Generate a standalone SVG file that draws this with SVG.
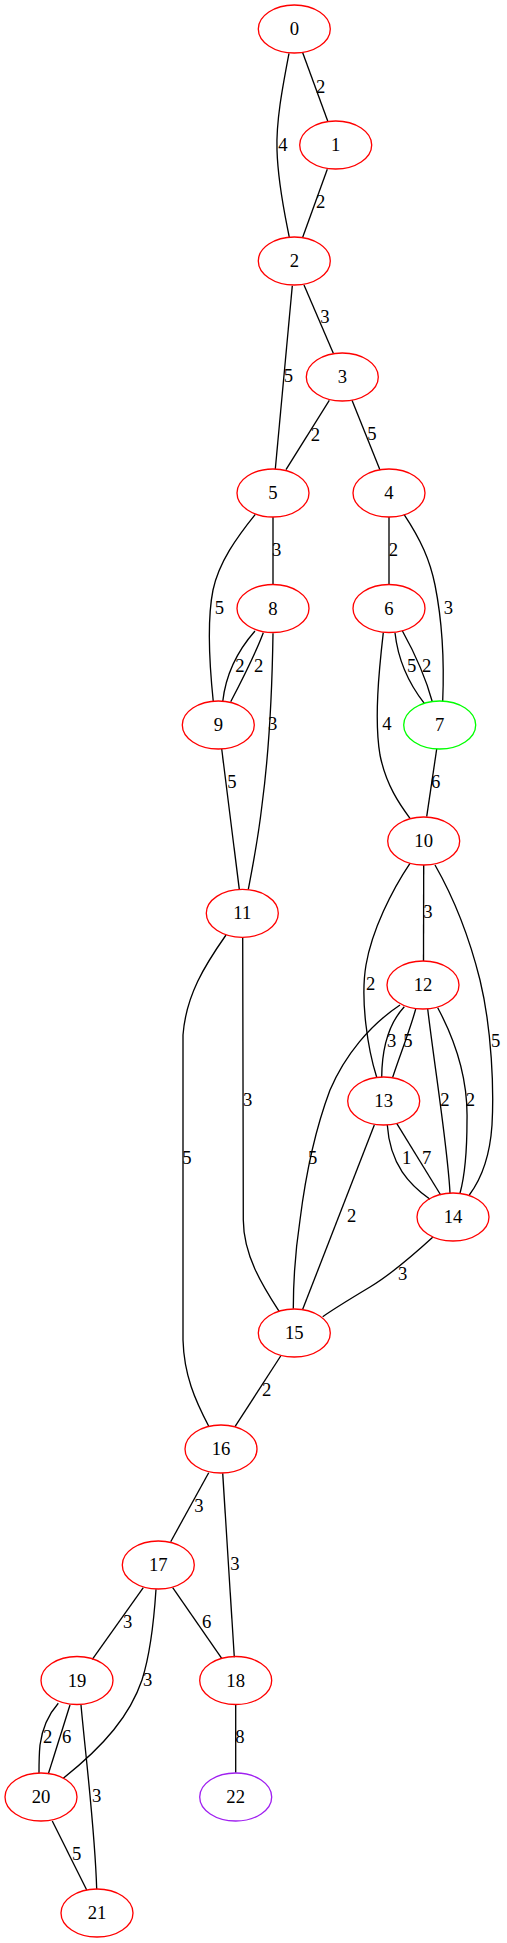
<svg xmlns="http://www.w3.org/2000/svg" width="507" height="1943" viewBox="0 0 507 1943">
<style>
.n ellipse{fill:none;stroke:#ff0000;stroke-width:1.33}
.n text,.l text{font-family:"Liberation Serif","Times New Roman",serif;font-size:18.67px;fill:#000;text-anchor:middle}
.e path{fill:none;stroke:#000;stroke-width:1.33}
</style>
<rect width="507" height="1943" fill="#fff"/>
<g id="edges" class="e">
<path d="M302.7,52.7 L327.7,121"/>
<path d="M289,53.3 C283,85 276,120 277,150 C278,185 285,215 289.3,237.3"/>
<path d="M327.3,169.3 L302.7,237.3"/>
<path d="M304,285 L333.3,353.3"/>
<path d="M292.3,285.7 L275.3,469"/>
<path d="M329.3,400.3 L286,469.7"/>
<path d="M352,400.3 L380,470"/>
<path d="M273,517 L273,584.7"/>
<path d="M389,517 L389,584.3"/>
<path d="M255.3,514.3 C237,537 219,562 213,590 C207,620 210,670 213.3,701.7"/>
<path d="M404,514.3 C421,540 430,560 435,585 C443,625 444,670 442.7,701.3"/>
<path d="M255,631 C240,648 226,672 222.7,701.7"/>
<path d="M263.3,632.7 C255,655 242,680 230.7,701.7"/>
<path d="M273,633.3 C272,700 268,760 262,805 C258,840 252,870 248.3,889.3"/>
<path d="M395,632.7 C398,660 410,685 424.3,703.3"/>
<path d="M402.3,630.7 C413,650 425,675 432.3,701.7"/>
<path d="M383.3,632.7 C379,670 374,720 380,755 C386,785 400,805 410,818.3"/>
<path d="M436.7,749 L426.7,816.7"/>
<path d="M221.7,749 L239.3,889.3"/>
<path d="M423.7,865 L423.5,961"/>
<path d="M410,863.3 C392,890 372,930 366,965 C360,1000 368,1050 376.7,1077.3"/>
<path d="M435,865 C455,900 470,940 480,980 C492,1030 494,1090 492,1125 C490,1155 482,1178 469.3,1195"/>
<path d="M404.3,1006.7 C392,1020 382,1040 381.7,1077.3"/>
<path d="M415.7,1009 C410,1030 400,1055 392.7,1077.3"/>
<path d="M427.7,1009 C435,1070 448,1150 450,1193.3"/>
<path d="M437.7,1007.7 C455,1040 468,1080 467,1120 C467,1150 465,1175 460,1193.3"/>
<path d="M400,1005 C370,1025 345,1055 330,1090 C315,1130 305,1180 300,1220 C294,1260 293.3,1290 293.3,1308.7"/>
<path d="M242.7,937 C243,1030 243,1150 243.3,1220 C243.5,1255 262,1285 279.3,1311.7"/>
<path d="M226,935 C205,965 186,995 183,1035 L183,1340 C184,1375 195,1400 209,1426.7"/>
<path d="M387.3,1125 C390,1165 410,1185 430,1199.3"/>
<path d="M396.7,1123.3 L440.7,1195"/>
<path d="M374.3,1125 L302.7,1309.3"/>
<path d="M432.7,1237.3 C410,1258 390,1275 370,1287 C350,1299 335,1308 322.7,1316.7"/>
<path d="M280.7,1356 L235,1426.7"/>
<path d="M208.7,1472.7 L170.7,1541.7"/>
<path d="M222.7,1473.3 L234.3,1657.3"/>
<path d="M143.3,1587.7 L92.3,1659.3"/>
<path d="M172.7,1587.7 L221.7,1658.3"/>
<path d="M156,1589.3 C154,1620 150,1655 142,1680 C130,1715 105,1745 63.3,1778.3"/>
<path d="M235.7,1704.3 L235.7,1772.7"/>
<path d="M58.3,1703.3 C48,1715 42,1730 40,1745 C39,1755 39,1765 39,1773.3"/>
<path d="M70,1705 L48.3,1774"/>
<path d="M81,1705 C86,1760 95,1830 96.7,1889.3"/>
<path d="M52.3,1821 L86.7,1890"/>
</g>
<g id="edge-labels" class="l">
<text x="320.7" y="93">2</text>
<text x="283" y="151">4</text>
<text x="320.7" y="208">2</text>
<text x="325" y="323">3</text>
<text x="288.3" y="382">5</text>
<text x="315.3" y="441">2</text>
<text x="372" y="440">5</text>
<text x="276.7" y="556">3</text>
<text x="219.3" y="614">5</text>
<text x="393.3" y="556">2</text>
<text x="448.3" y="614">3</text>
<text x="240" y="672">2</text>
<text x="258.7" y="672">2</text>
<text x="272.7" y="730">3</text>
<text x="411.7" y="672">5</text>
<text x="426.7" y="672">2</text>
<text x="387" y="730">4</text>
<text x="435.7" y="788">6</text>
<text x="232" y="788">5</text>
<text x="428" y="918">3</text>
<text x="370.7" y="990">2</text>
<text x="495.7" y="1047">5</text>
<text x="391.7" y="1047">3</text>
<text x="408" y="1047">5</text>
<text x="445" y="1106">2</text>
<text x="470.3" y="1106">2</text>
<text x="312.7" y="1164">5</text>
<text x="247.7" y="1106">3</text>
<text x="187" y="1164">5</text>
<text x="406.7" y="1164">1</text>
<text x="426.7" y="1164">7</text>
<text x="351.7" y="1222">2</text>
<text x="402.7" y="1280">3</text>
<text x="266.7" y="1396">2</text>
<text x="199" y="1512">3</text>
<text x="235" y="1570">3</text>
<text x="127.7" y="1628">3</text>
<text x="147.7" y="1686">3</text>
<text x="206.7" y="1628">6</text>
<text x="240" y="1743">8</text>
<text x="47.7" y="1743">2</text>
<text x="66.7" y="1743">6</text>
<text x="96.7" y="1802">3</text>
<text x="76.7" y="1860">5</text>
</g>
<g id="node0" class="n"><ellipse cx="294.3" cy="29" rx="36" ry="24"/><text x="294.3" y="35">0</text></g>
<g id="node1" class="n"><ellipse cx="335.7" cy="145" rx="36" ry="24"/><text x="335.7" y="151">1</text></g>
<g id="node2" class="n"><ellipse cx="294.3" cy="261" rx="36" ry="24"/><text x="294.3" y="267">2</text></g>
<g id="node3" class="n"><ellipse cx="342.3" cy="377" rx="36" ry="24"/><text x="342.3" y="383">3</text></g>
<g id="node4" class="n"><ellipse cx="389" cy="493" rx="36" ry="24"/><text x="389" y="499">4</text></g>
<g id="node5" class="n"><ellipse cx="273" cy="493" rx="36" ry="24"/><text x="273" y="499">5</text></g>
<g id="node6" class="n"><ellipse cx="389" cy="608.5" rx="36" ry="24"/><text x="389" y="614.5">6</text></g>
<g id="node7" class="n"><ellipse cx="439.7" cy="725" rx="36" ry="24" style="stroke:#00ff00"/><text x="439.7" y="731">7</text></g>
<g id="node8" class="n"><ellipse cx="273" cy="608.5" rx="36" ry="24"/><text x="273" y="614.5">8</text></g>
<g id="node9" class="n"><ellipse cx="218.3" cy="725" rx="36" ry="24"/><text x="218.3" y="731">9</text></g>
<g id="node10" class="n"><ellipse cx="423.7" cy="841" rx="36" ry="24"/><text x="423.7" y="847">10</text></g>
<g id="node11" class="n"><ellipse cx="242.3" cy="913.3" rx="36" ry="24"/><text x="242.3" y="919.3">11</text></g>
<g id="node12" class="n"><ellipse cx="423" cy="985" rx="36" ry="24"/><text x="423" y="991">12</text></g>
<g id="node13" class="n"><ellipse cx="383.7" cy="1101" rx="36" ry="24"/><text x="383.7" y="1107">13</text></g>
<g id="node14" class="n"><ellipse cx="453" cy="1217" rx="36" ry="24"/><text x="453" y="1223">14</text></g>
<g id="node15" class="n"><ellipse cx="294.3" cy="1333" rx="36" ry="24"/><text x="294.3" y="1339">15</text></g>
<g id="node16" class="n"><ellipse cx="221" cy="1449" rx="36" ry="24"/><text x="221" y="1455">16</text></g>
<g id="node17" class="n"><ellipse cx="158.3" cy="1565" rx="36" ry="24"/><text x="158.3" y="1571">17</text></g>
<g id="node18" class="n"><ellipse cx="235.7" cy="1680.5" rx="36" ry="24"/><text x="235.7" y="1686.5">18</text></g>
<g id="node19" class="n"><ellipse cx="77" cy="1680.5" rx="36" ry="24"/><text x="77" y="1686.5">19</text></g>
<g id="node20" class="n"><ellipse cx="41" cy="1797" rx="36" ry="24"/><text x="41" y="1803">20</text></g>
<g id="node21" class="n"><ellipse cx="97" cy="1913" rx="36" ry="24"/><text x="97" y="1919">21</text></g>
<g id="node22" class="n"><ellipse cx="235.7" cy="1797" rx="36" ry="24" style="stroke:#a020f0"/><text x="235.7" y="1803">22</text></g>
</svg>
